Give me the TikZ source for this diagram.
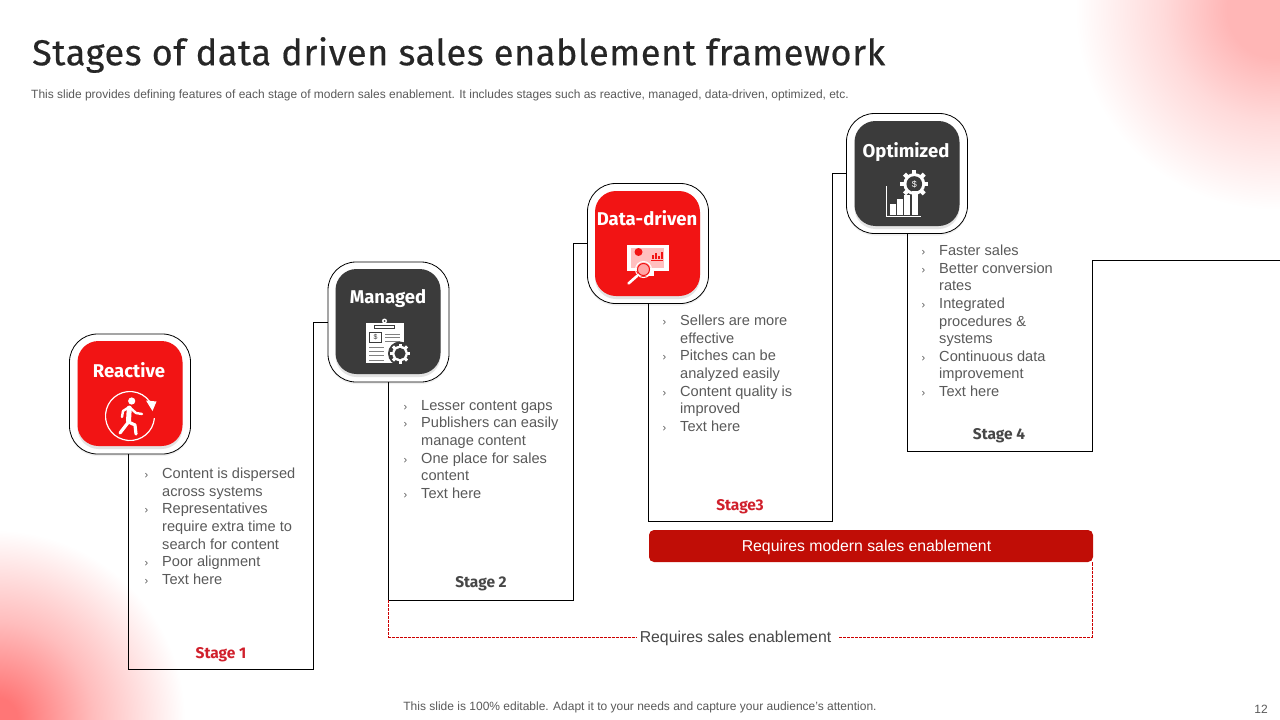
\documentclass[tikz,border=0pt]{standalone}
\usepackage{fontspec}
\setmainfont{Liberation Sans}
\newfontfamily\dinfont{Fira Sans}
\newfontfamily\titlefont[LetterSpace=1.8,FakeBold=0.5]{Fira Sans}
\usetikzlibrary{positioning}
\usetikzlibrary{shadows}
\definecolor{cardred}{HTML}{F21414}
\definecolor{carddark}{HTML}{3B3B3B}
\definecolor{barred}{HTML}{C00D06}
\definecolor{stagered}{HTML}{D0202C}
\definecolor{bodygray}{HTML}{595959}
\definecolor{inkdark}{HTML}{262626}
\definecolor{glowsoft}{HTML}{FFB6B6}
\definecolor{glowdeep}{HTML}{FF7676}
\pgfdeclareradialshading{softglow}{\pgfpoint{0bp}{0bp}}{color(0bp)=(glowsoft); color(6bp)=(glowsoft); color(14bp)=(glowsoft!50!white); color(25bp)=(white); color(50bp)=(white)}
\pgfdeclareradialshading{deepglow}{\pgfpoint{0bp}{0bp}}{color(0bp)=(glowdeep); color(3bp)=(glowdeep); color(13bp)=(glowdeep!48!white); color(25bp)=(white); color(50bp)=(white)}
\newcommand{\itm}{\makebox[17.5pt][l]{\fontsize{11}{11}\selectfont ›}}
\newcommand{\cont}{\hspace*{17.5pt}}
\newcommand{\gearglyph}[4]{%
  \begin{scope}[shift={(#1)}]
    \foreach \a in {0,45,...,315} \draw[#3, line width=#2*0.3pt] (\a:#2*0.7) -- (\a:#2);
    \fill[#3] (0,0) circle (#2*0.78);
    \fill[#4] (0,0) circle (#2*0.56);
  \end{scope}}
\tikzset{
  cardouter/.style={draw=black, fill=white, rounded corners=28pt, line width=0.8pt, minimum width=121pt, minimum height=120pt, drop shadow={shadow xshift=0pt, shadow yshift=-2pt, opacity=0.12}},
  cardinner/.style={rounded corners=21pt, minimum width=105pt, minimum height=105pt, drop shadow={shadow xshift=0pt, shadow yshift=-3pt, opacity=0.22}},
  cardtitle/.style={text=white, font=\dinfont\fontsize{18.5}{20}\selectfont\bfseries},
  stepline/.style={draw=black, line width=0.8pt},
  listtext/.style={anchor=north west, align=left, inner sep=0pt, text=bodygray, font=\fontsize{14.6}{17.6}\selectfont},
  stagetext/.style={font=\dinfont\fontsize{15.5}{18}\selectfont\bfseries},
  dashline/.style={draw=red!80!black, dash pattern=on 3pt off 1pt, line width=0.6pt},
}
\begin{document}
\begin{tikzpicture}[x=1pt, y=-1pt]
  \useasboundingbox (0,0) rectangle (1280,720);
  % corner glow
  \begin{scope}
    \clip (0,0) rectangle (1280,720);
    \shade[shading=softglow] (1275,10) circle (200);
    \shade[shading=deepglow] (-5,720) circle (190);
  \end{scope}
  % header and footer
  \node[anchor=west, inner sep=0pt, text=inkdark, font=\titlefont\fontsize{36}{40}\selectfont] (headline) at (32,55) {Stages of data driven sales enablement framework};
  \node[anchor=west, inner sep=0pt, text=bodygray, font=\fontsize{11.97}{14}\selectfont] (subline) at (31,95) {This slide provides defining features of each stage of modern sales enablement. It includes stages such as reactive, managed, data-driven, optimized, etc.};
  \node[text=bodygray, inner sep=0pt, font=\fontsize{12}{14}\selectfont] (footline) at (640,707) {This slide is 100\% editable. Adapt it to your needs and capture your audience's attention.};
  \node[text=bodygray, inner sep=0pt, font=\fontsize{12}{14}\selectfont] (pagenum) at (1261,709) {12};
  % cards
  \node[cardouter] (reactiveOuter) at (130,394) {};
  \node[cardouter] (managedOuter) at (388.5,322) {};
  \node[cardouter] (dataOuter) at (648,243.5) {};
  \node[cardouter] (optimOuter) at (907,173.5) {};
  \node[cardinner, fill=cardred] (reactiveInner) at (130,393.5) {};
  \node[cardinner, fill=carddark] (managedInner) at (388,321.5) {};
  \node[cardinner, fill=cardred] (dataInner) at (647.5,243.5) {};
  \node[cardinner, fill=carddark] (optimInner) at (907,173.5) {};
  \node[cardtitle] (reactiveTitle) at (129,370.5) {Reactive};
  \node[cardtitle] (managedTitle) at (388,298.5) {Managed};
  \node[cardtitle] (dataTitle) at (647,218.5) {Data-driven};
  \node[cardtitle] (optimTitle) at (906,152) {Optimized};
  % stair steps
  \coordinate (stepOneB) at (313.5,669);
  \coordinate (stepTwoA) at (388.5,600);
  \coordinate (stepTwoB) at (573.5,600);
  \coordinate (stepThreeB) at (832.5,521);
  \coordinate (stepFourB) at (1092.5,451);
  \coordinate (stepFourC) at (1280,260);
  \draw[stepline] ([xshift=-1.5pt]reactiveOuter.south) |- (stepOneB) |- (managedOuter.west);
  \draw[stepline] (managedOuter.south) -- (stepTwoA) -- (stepTwoB) |- (dataOuter.west);
  \draw[stepline] (dataOuter.south) |- (stepThreeB) |- (optimOuter.west);
  \draw[stepline] (optimOuter.south) |- (stepFourB) |- (stepFourC);
  % lists
  \node[listtext] (reactiveList) at (144.5,468) {\itm Content is dispersed\\\cont across systems\\\itm Representatives\\\cont require extra time to\\\cont search for content\\\itm Poor alignment\\\itm Text here};
  \node[listtext] (managedList) at (403.5,400) {\itm Lesser content gaps\\\itm Publishers can easily\\\cont manage content\\\itm One place for sales\\\cont content\\\itm Text here};
  \node[listtext] (dataList) at (662.5,315) {\itm Sellers are more\\\cont effective\\\itm Pitches can be\\\cont analyzed easily\\\itm Content quality is\\\cont improved\\\itm Text here};
  \node[listtext] (optimList) at (921.5,245) {\itm Faster sales\\\itm Better conversion\\\cont rates\\\itm Integrated\\\cont procedures \&\\\cont systems\\\itm Continuous data\\\cont improvement\\\itm Text here};
  % stage names
  \node[stagetext, text=stagered] (stageOne) at (221,655) {Stage 1};
  \node[stagetext, text=inkdark!85] (stageTwo) at (481,584) {Stage 2};
  \node[stagetext, text=stagered] (stageThree) at (740,507) {Stage3};
  \node[stagetext, text=inkdark!85] (stageFour) at (999,436) {Stage 4};
  % requirement bar and dashed bracket
  \node[fill=barred, rounded corners=5pt, minimum width=444pt, minimum height=32pt, inner sep=0pt] (modernBar) at (871,546) {};
  \node[text=white, inner sep=0pt, font=\fontsize{15.8}{18}\selectfont] (modernLabel) at (866.5,547.5) {Requires modern sales enablement};
  \node[fill=white, inner sep=0pt, minimum width=203pt, minimum height=18pt] (salesBack) at (737.5,637) {};
  \node[inner sep=0pt, text=inkdark!85, font=\fontsize{15.8}{18}\selectfont] (salesLabel) at (735.5,638.5) {Requires sales enablement};
  \coordinate (dashLeft) at (388.5,637);
  \coordinate (dashRight) at (1092.5,637);
  \draw[dashline] (stepTwoA) -- (dashLeft) -- (salesBack.west);
  \draw[dashline] (salesBack.east) -- (dashRight) -- (modernBar.south -| dashRight);
  % reactive icon
  \begin{scope}[shift={(130,416)}]
    \draw[white, line width=1.2pt] (5:24.5) arc (5:325:24.5);
    \fill[white] (16,-15.5) -- (26.5,-14.5) -- (22.5,-5) -- cycle;
    \fill[white] (1.7,-15) circle (3.6);
    \draw[white, line width=5pt, line cap=round] (-0.7,-8) -- (-1.5,5);
    \draw[white, line width=3.2pt, line cap=round, line join=round] (-1.5,6) -- (-10,17);
    \draw[white, line width=3.2pt, line cap=round, line join=round] (-1.5,6) -- (5,9) -- (6,18);
    \draw[white, line width=2.4pt, line cap=round, line join=round] (-0.7,-9) -- (6,-3) -- (12,-2);
    \draw[white, line width=2.4pt, line cap=round, line join=round] (-0.7,-9) -- (-7,-5) -- (-8,1);
  \end{scope}
  % managed icon
  \fill[white] (366,322.5) rectangle (404,362.5);
  \draw[carddark, fill=white, line width=0.6pt] (374.5,325) rectangle (394.5,328);
  \fill[white] (384.5,321) circle (2.5);
  \fill[carddark] (384.5,321) circle (1);
  \draw[carddark, line width=0.5pt] (369.5,332.5) rectangle (381.5,342);
  \node[inner sep=0pt, text=carddark, font=\fontsize{7}{7}\selectfont] (clipDollar) at (375.5,337.3) {\$};
  \foreach \y in {334,337.7,341.7} \draw[gray, line width=0.8pt] (385,\y) -- (400,\y);
  \foreach \y in {347.3,351.7,355.7,360} \draw[gray, line width=0.8pt] (369,\y) -- (384,\y);
  \fill[carddark] (400,353.5) circle (12);
  \gearglyph{400,353.5}{10}{white}{carddark}
  % data-driven icon
  \fill[white] (626.5,244.5) rectangle (668.5,271);
  \fill[red!25] (631,248) rectangle (664,267.5);
  \fill[cardred] (638.5,252) circle (4);
  \foreach \x/\h in {652/4,655/6,658/3,661/7} \fill[cardred] (\x,259) rectangle (\x+1.8,259-\h);
  \draw[cardred, line width=0.8pt] (651,260) -- (663,260);
  \fill[white] (638,271) rectangle (654,276);
  \draw[white, line width=1pt] (643.5,269.5) circle (8);
  \fill[red!35] (643.5,269.5) circle (6.5);
  \draw[cardred, line width=1pt] (643.5,269.5) circle (6);
  \draw[white, line width=2.6pt, line cap=round] (637,276) -- (628.5,283.5);
  % optimized icon
  \draw[white, line width=0.9pt] (886.7,186) -- (886.7,216.5) -- (921,216.5);
  \gearglyph{914.3,184}{14}{white}{carddark}
  \node[inner sep=0pt, text=white, font=\fontsize{9}{9}\selectfont] (gearDollar) at (914.3,184) {\$};
  \foreach \x/\t in {889.5/203.5,897/198.5,904.3/194.5,911.5/190.5} \fill[white] (\x,\t) rectangle (\x+6,214.5);
\end{tikzpicture}
\end{document}
